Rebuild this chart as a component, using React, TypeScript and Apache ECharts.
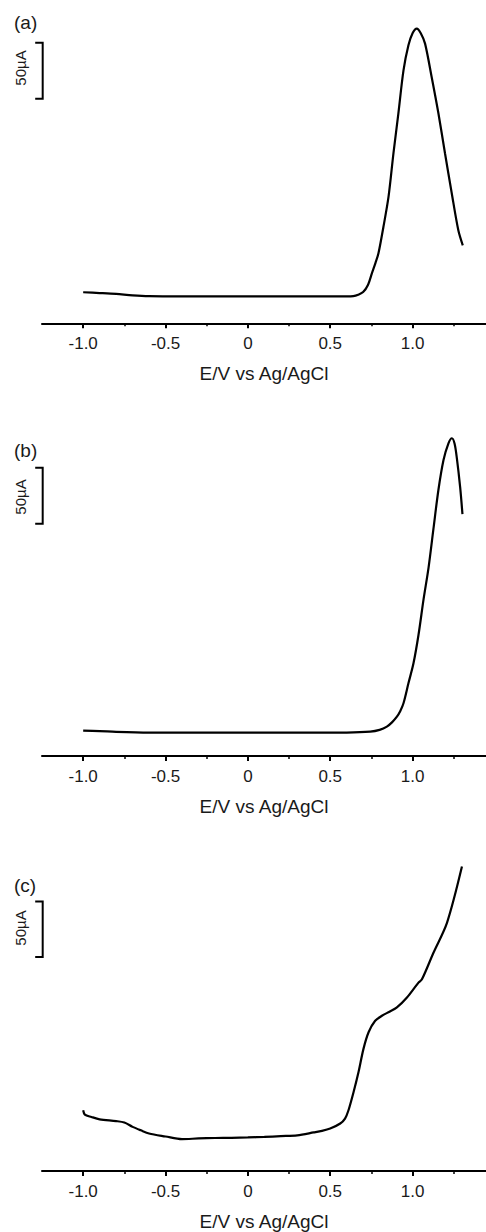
import React, { useEffect, useRef } from "react";
import * as echarts from "echarts";

// ---- data (E in V vs Ag/AgCl, current in µA above the drawn baseline axis) ----
const potentialA = [-1.0, -0.9, -0.8, -0.7, -0.6, -0.4, -0.2, 0, 0.2, 0.4, 0.6, 0.64, 0.67, 0.7, 0.73, 0.753, 0.775, 0.793, 0.823, 0.854, 0.884, 0.914, 0.945, 0.975, 1.0, 1.026, 1.05, 1.076, 1.116, 1.157, 1.197, 1.238, 1.278, 1.305];
const currentA = [27.7, 27.0, 26.2, 25.0, 24.3, 24.1, 24.1, 24.1, 24.1, 24.1, 24.1, 24.3, 25.5, 27.9, 34.5, 44.6, 54.0, 62.5, 86.0, 112.8, 151.8, 187.5, 225.9, 248.2, 259.0, 263.1, 259.0, 249.7, 219.9, 187.5, 151.8, 116.1, 83.0, 69.6];

const potentialB = [-1.0, -0.9, -0.8, -0.6, -0.4, 0, 0.4, 0.6, 0.743, 0.8, 0.844, 0.875, 0.905, 0.925, 0.945, 0.975, 1.006, 1.036, 1.067, 1.097, 1.127, 1.157, 1.188, 1.218, 1.239, 1.255, 1.269, 1.289, 1.303];
const currentB = [22.6, 22.2, 21.6, 20.9, 20.8, 20.8, 20.8, 20.9, 21.7, 23.3, 26.2, 30.0, 35.1, 40.0, 47.1, 64.9, 83.0, 108.0, 140.0, 168.0, 203.0, 237.5, 264.3, 279.2, 283.7, 279.0, 266.0, 240.0, 216.0];

const potentialC = [-1.0, -0.99, -0.95, -0.9, -0.8, -0.75, -0.7, -0.65, -0.6, -0.5, -0.4, -0.3, -0.2, -0.1, 0, 0.1, 0.2, 0.3, 0.4, 0.45, 0.5, 0.561, 0.59, 0.611, 0.642, 0.672, 0.702, 0.733, 0.773, 0.814, 0.86, 0.905, 0.966, 1.036, 1.057, 1.127, 1.209, 1.3];
const currentC = [54.5, 50.6, 48.5, 46.4, 44.8, 43.5, 39.6, 36.5, 33.7, 31.0, 28.6, 29.2, 29.6, 29.8, 30.1, 30.6, 31.3, 32.0, 34.6, 36.0, 38.1, 42.6, 47.0, 54.5, 70.9, 88.8, 109.6, 124.5, 134.8, 139.3, 143.0, 146.8, 155.7, 169.1, 172.0, 195.9, 222.7, 273.2];

const panelLabels = ["(a)", "(b)", "(c)"];
const majorTicks = [-1.0, -0.5, 0, 0.5, 1.0];
const minorTicks = [-0.75, -0.25, 0.25, 0.75, 1.25];
const xTitle = "E/V vs Ag/AgCl";
const scaleBarLabel = "50µA";
const scaleBarValue = 50; // µA
const scaleBarTop = [250.6, 257.4, 242.0]; // µA level of the bar top in each panel
const yMax = [280, 300, 290];

// ---- layout ----
const W = 486;
const H = 1232;
const PX_PER_UA = 1.12;
const axisY = [323.3, 756, 1172.7];
const labelY = [24, 452, 887];
const barLabelY = [68, 497, 928];
const BAR_X = -1.2458; // E position of the scale bar
const BAR_TICK_PX = 7.5;
const FONT = "'Liberation Sans', Arial, sans-serif";
const INK = "#1a1a1a";

export default function App() {
  const ref = useRef<HTMLDivElement>(null);

  useEffect(() => {
    if (!ref.current) return;
    const chart = echarts.init(ref.current, null, { renderer: "svg" });
    const datasets = [
      [potentialA, currentA],
      [potentialB, currentB],
      [potentialC, currentC],
    ];

    const grids: any[] = [];
    const xAxes: any[] = [];
    const yAxes: any[] = [];
    const series: any[] = [];
    const graphics: any[] = [];

    datasets.forEach(([xs, ys], i) => {
      const h = yMax[i] * PX_PER_UA;
      grids.push({ left: 42, right: 0, top: axisY[i] - h, height: h });
      xAxes.push({
        type: "value",
        gridIndex: i,
        min: -1.25,
        max: 1.446,
        position: "bottom",
        axisLine: { show: true, onZero: false, lineStyle: { color: "#000", width: 2 } },
        axisTick: { show: true, customValues: majorTicks, length: 5, lineStyle: { color: "#000", width: 2 } },
        axisLabel: {
          customValues: majorTicks,
          formatter: (v: number) => (v === 0 ? "0" : v.toFixed(1)),
          fontSize: 17,
          color: INK,
          fontFamily: FONT,
          margin: 12,
        },
        splitLine: { show: false },
        name: xTitle,
        nameLocation: "middle",
        nameGap: 41,
        nameTextStyle: { fontSize: 19, color: INK, fontFamily: FONT },
      });
      xAxes.push({
        type: "value",
        gridIndex: i,
        min: -1.25,
        max: 1.446,
        position: "bottom",
        axisLine: { show: false, onZero: false },
        axisTick: { show: true, customValues: minorTicks, length: 3, lineStyle: { color: "#000", width: 1.5 } },
        axisLabel: { show: false },
        splitLine: { show: false },
      });
      yAxes.push({ type: "value", gridIndex: i, min: 0, max: yMax[i], show: false });

      series.push({
        type: "line",
        xAxisIndex: i * 2,
        yAxisIndex: i,
        data: xs.map((x, k) => [x, ys[k]]),
        showSymbol: false,
        smooth: 0.3,
        lineStyle: { color: "#000", width: 2.2 },
      });

      graphics.push({
        type: "text",
        left: 14,
        top: labelY[i] - 11,
        style: { text: panelLabels[i], fontSize: 19, fill: INK, fontFamily: FONT },
      });
      graphics.push({
        type: "text",
        x: 20,
        y: barLabelY[i],
        rotation: Math.PI / 2,
        style: {
          text: scaleBarLabel,
          fontSize: 15,
          fill: INK,
          fontFamily: FONT,
          align: "center",
          verticalAlign: "middle",
        },
      });
    });

    chart.setOption({
      animation: false,
      backgroundColor: "#fff",
      grid: grids,
      xAxis: xAxes,
      yAxis: yAxes,
      series,
      graphic: graphics,
    });

    // scale bars: 50 µA converted through each panel's own scale
    const bars: any[] = [];
    scaleBarTop.forEach((top, i) => {
      const finder = { xAxisIndex: i * 2, yAxisIndex: i };
      const pTop = chart.convertToPixel(finder, [BAR_X, top]) as number[];
      const pBot = chart.convertToPixel(finder, [BAR_X, top - scaleBarValue]) as number[];
      if (!pTop || !pBot) return;
      bars.push({
        type: "polyline",
        silent: true,
        shape: {
          points: [
            [pTop[0] - BAR_TICK_PX, pTop[1]],
            [pTop[0], pTop[1]],
            [pBot[0], pBot[1]],
            [pBot[0] - BAR_TICK_PX, pBot[1]],
          ],
        },
        style: { stroke: "#000", lineWidth: 2, fill: null },
      });
    });
    chart.setOption({ graphic: graphics.concat(bars) });

    return () => chart.dispose();
  }, []);

  return (
    <div
      ref={ref}
      style={{ position: "absolute", left: 0, top: 0, width: W, height: H }}
    />
  );
}
